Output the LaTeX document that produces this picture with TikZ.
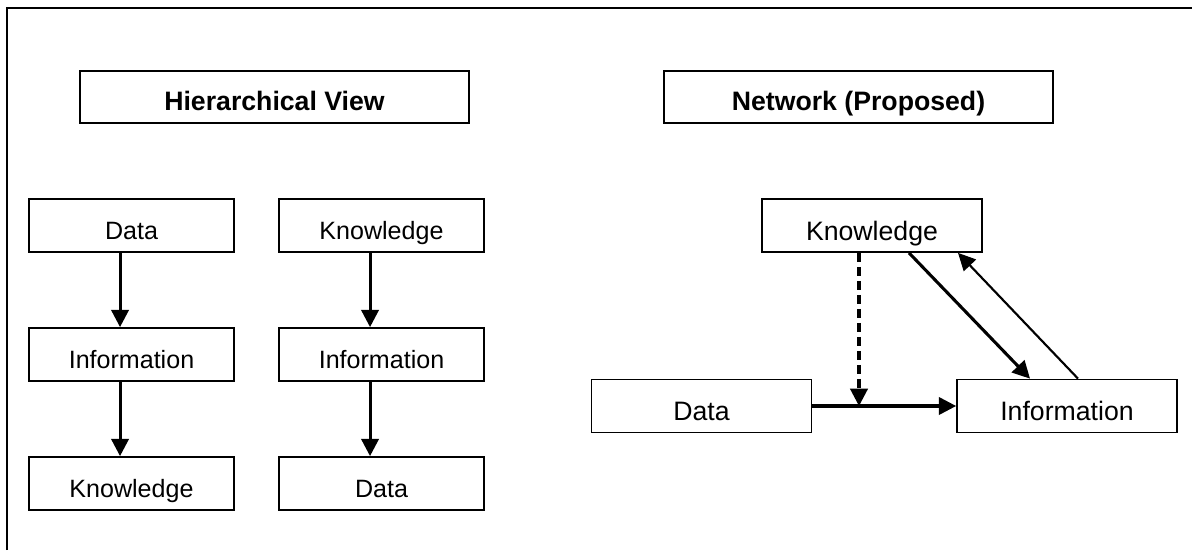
\documentclass[tikz,border=0pt]{standalone}
\usepackage{fontspec}
\setmainfont{Liberation Sans}
\usetikzlibrary{arrows.meta}

\tikzset{
  box/.style={draw, line width=1.3pt, rectangle, minimum height=39.75pt, inner sep=0pt, text height=21.8pt, text depth=0pt, font=\fontsize{20}{24}\selectfont},
  smallbox/.style={box, minimum width=153.75pt, text height=21.5pt, font=\fontsize{18.8}{22}\selectfont},
  netbox/.style={box, minimum width=165pt},
  titlebox/.style={box, minimum width=291.75pt, minimum height=39pt, text height=19.5pt, font=\fontsize{20}{24}\selectfont\bfseries},
  flow/.style={line width=2.3pt, -{Triangle[length=13pt,width=13pt]}},
  thinflow/.style={line width=1.6pt, -{Triangle[length=13pt,width=12.5pt]}},
}

\begin{document}
\begin{tikzpicture}[x=0.75pt,y=0.75pt,yscale=-1,xscale=1]
\useasboundingbox (0,0) rectangle (1192,550);

%Frame
\draw [line width=1.4pt]  (7,550) -- (7,8) -- (1192,8) ;

%Title boxes
\node [titlebox] (hview) at (274.5,97) {Hierarchical View};
\node [titlebox] (nview) at (858.5,97) {Network (Proposed)};

%Hierarchical: first column
\node [smallbox] (hdata) at (131.5,225.5) {Data};
\node [smallbox] (hinfo) at (131.5,354.5) {Information};
\node [smallbox] (hknow) at (131.5,483.5) {Knowledge};
%Hierarchical: second column
\node [smallbox] (rknow) at (381.5,225.5) {Knowledge};
\node [smallbox] (rinfo) at (381.5,354.5) {Information};
\node [smallbox] (rdata) at (381.5,483.5) {Data};

%Straight Lines: hierarchy arrows
\draw [flow] ([xshift=-8.6pt]hdata.south) -- ([xshift=-8.6pt]hinfo.north) ;
\draw [flow] ([xshift=-8.6pt]hinfo.south) -- ([xshift=-8.6pt]hknow.north) ;
\draw [flow] ([xshift=-8.6pt]rknow.south) -- ([xshift=-8.6pt]rinfo.north) ;
\draw [flow] ([xshift=-8.6pt]rinfo.south) -- ([xshift=-8.6pt]rdata.north) ;

%Network boxes
\node [netbox] (nknow) at (872,225.5) {Knowledge};
\node [netbox] (ndata) at (701.5,406) {Data};
\node [netbox] (ninfo) at (1067,406) {Information};

%Straight Lines: network arrows
\draw [flow] (ndata.east) -- (ninfo.west) ;
\draw [flow, dash pattern=on 7pt off 3.5pt] ([xshift=-9.75pt]nknow.south) -- ([xshift=-9.75pt]nknow.south |- ndata.east) ;
\draw [flow] ([xshift=27.75pt]nknow.south) -- ([xshift=-27.75pt]ninfo.north) ;
\draw [thinflow] ([xshift=8.25pt]ninfo.north) -- ([xshift=64.5pt]nknow.south) ;

\end{tikzpicture}
\end{document}
